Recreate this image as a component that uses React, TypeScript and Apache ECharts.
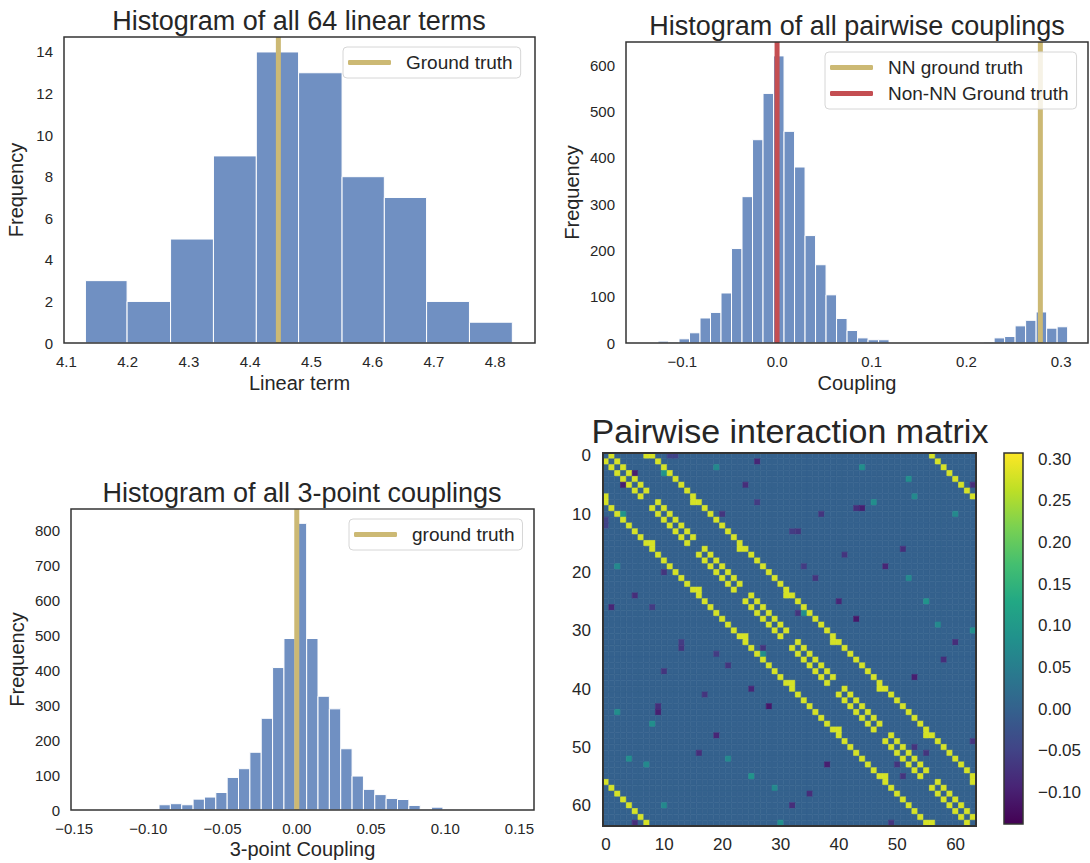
import React, { useEffect, useRef } from "react";
import * as echarts from "echarts";

// ---------- DATA ----------
const LINEAR_EDGES = [4.131, 4.199, 4.270, 4.340, 4.410, 4.479, 4.550, 4.619, 4.688, 4.758, 4.828];
const LINEAR_COUNTS = [3, 2, 5, 9, 14, 13, 8, 7, 2, 1];
const LINEAR_TRUTH = 4.446;
const LINEAR_X_TICKS = [4.1, 4.2, 4.3, 4.4, 4.5, 4.6, 4.7, 4.8];
const LINEAR_Y_TICKS = [0, 2, 4, 6, 8, 10, 12, 14];

const PAIR_BIN_START = -0.1368;
const PAIR_BIN_WIDTH = 0.01109;
const PAIR_COUNTS = [1, 4, 2, 9, 22, 54, 66, 108, 204, 316, 439, 539, 620, 457, 380, 232, 169, 104, 53, 27, 11, 7, 7, 0, 0, 0, 0, 0, 0, 0, 0, 0, 2, 11, 14, 37, 49, 67, 32, 35];
const NN_TRUTH = 0.278;
const NON_NN_TRUTH = 0.0;
const PAIR_X_TICKS = [-0.1, 0.0, 0.1, 0.2, 0.3];
const PAIR_Y_TICKS = [0, 100, 200, 300, 400, 500, 600];

const TRIPLE_BIN_START = -0.1387;
const TRIPLE_BIN_WIDTH = 0.00765;
const TRIPLE_COUNTS = [0, 0, 0, 1, 1, 2, 15, 18, 15, 31, 37, 50, 93, 118, 165, 262, 407, 490, 819, 490, 325, 289, 175, 97, 59, 44, 33, 30, 13, 2, 8, 2, 1, 1, 0, 0, 1];
const TRIPLE_TRUTH = 0.0;
const TRIPLE_X_TICKS = [-0.15, -0.1, -0.05, 0.0, 0.05, 0.1, 0.15];
const TRIPLE_Y_TICKS = [0, 100, 200, 300, 400, 500, 600, 700, 800];

// Pairwise matrix: 64 spins on an 8x8 periodic lattice
const LATTICE = 8;
const NN_VALUE = 0.28;
const BACKGROUND_VALUE = 0.0;
// noticeable off-structure cells [row, col, value] (matrix is symmetric)
const MATRIX_OUTLIERS = [
  [1, 26, -0.09], [5, 24, -0.08], [9, 43, -0.08], [9, 44, -0.1], [10, 37, -0.07], [13, 32, -0.06],
  [13, 33, -0.07], [17, 41, -0.07], [19, 34, -0.06], [21, 36, -0.07], [8, 26, -0.06], [5, 63, -0.08],
  [16, 51, -0.08], [19, 48, -0.09], [2, 44, 0.08], [8, 46, 0.08], [4, 52, 0.08], [7, 53, 0.07],
  [10, 60, 0.07], [21, 52, 0.07], [25, 40, -0.09], [28, 43, -0.11], [27, 33, -0.07], [27, 34, 0.08],
  [25, 55, 0.09], [32, 60, -0.08], [35, 58, -0.08], [38, 53, -0.1], [30, 63, 0.08], [29, 57, 0.07],
  [49, 63, -0.07], [50, 53, -0.07], [51, 55, -0.07], [3, 5, -0.1], [0, 11, -0.05], [0, 12, -0.05],
  [3, 10, 0.09], [10, 20, -0.07], [2, 19, 0.07],
];
const CBAR_MIN = -0.138;
const CBAR_MAX = 0.3076;
const CBAR_TICKS = [-0.1, -0.05, 0.0, 0.05, 0.1, 0.15, 0.2, 0.25, 0.3];
const MATRIX_TICKS = ["0", "10", "20", "30", "40", "50", "60"];

const VIRIDIS = ["#440154", "#482475", "#414487", "#355f8d", "#2a788e", "#21918c", "#22a884", "#44bf70", "#7ad151", "#bddf26", "#fde725"];

// ---------- helpers ----------
const FONT = '"Liberation Sans", Arial, Helvetica, sans-serif';
const INK = "#262626";
const FRAME = "#333333";
const BAR = "#7090C2";
const GOLD = "#CCB974";
const RED = "#C44E52";

const GRIDS = [
  { left: 64, top: 37, width: 471, height: 306 },
  { left: 626, top: 42, width: 462, height: 301 },
  { left: 71, top: 509, width: 463, height: 301 },
  { left: 603, top: 453, width: 373, height: 373 },
  { left: 1004, top: 453, width: 19, height: 371 },
];

const fmt = (d: number) => (v: number) => (v < 0 ? "\u2212" : "") + Math.abs(v).toFixed(d);

function histData(edges: number[], counts: number[]) {
  const out: number[][] = [];
  counts.forEach((c, i) => out.push([edges[i], edges[i + 1], c]));
  return out;
}
function uniformEdges(start: number, width: number, n: number) {
  const e: number[] = [];
  for (let i = 0; i <= n; i++) e.push(start + i * width);
  return e;
}

function renderBar(params: any, api: any) {
  const c = api.value(2);
  if (!c) return null;
  const p0 = api.coord([api.value(0), c]);
  const p1 = api.coord([api.value(1), 0]);
  return {
    type: "rect",
    shape: { x: p0[0], y: p0[1], width: p1[0] - p0[0], height: p1[1] - p0[1] },
    style: { fill: BAR, stroke: "#ffffff", lineWidth: 1 },
  };
}

function renderCell(params: any, api: any) {
  const c = api.coord([api.value(0), api.value(1)]);
  const s = api.size([1, 1]);
  const color = api.visual("color");
  return {
    type: "rect",
    shape: { x: c[0] - s[0] / 2, y: c[1] - s[1] / 2, width: s[0], height: s[1] },
    style: { fill: color, stroke: color, lineWidth: 0.6 },
  };
}

function matrixData() {
  const n = LATTICE * LATTICE;
  const m: number[][] = [];
  for (let i = 0; i < n; i++) {
    m.push([]);
    for (let j = 0; j < n; j++) m[i].push(BACKGROUND_VALUE);
  }
  for (let i = 0; i < n; i++) {
    const r = Math.floor(i / LATTICE), c = i % LATTICE;
    const right = r * LATTICE + ((c + 1) % LATTICE);
    const down = ((r + 1) % LATTICE) * LATTICE + c;
    [right, down].forEach((j) => {
      m[i][j] = NN_VALUE;
      m[j][i] = NN_VALUE;
    });
  }
  MATRIX_OUTLIERS.forEach(([r, c, v]) => {
    m[r][c] = v;
    m[c][r] = v;
  });
  const data: number[][] = [];
  for (let i = 0; i < n; i++) for (let j = 0; j < n; j++) data.push([j, i, m[i][j]]);
  return data;
}

const valueAxisBase = (min: number, max: number, ticks: number[], digits: number, extra: any = {}) => ({
  type: "value",
  min,
  max,
  axisLine: { show: false },
  axisTick: { show: false },
  splitLine: { show: false },
  axisLabel: {
    customValues: ticks,
    formatter: fmt(digits),
    fontSize: 15,
    color: INK,
    fontFamily: FONT,
    margin: 11,
  },
  nameTextStyle: { fontSize: 20, color: INK, fontFamily: FONT },
  nameLocation: "middle",
  ...extra,
});

const legendBase = (names: string[], left: number, top: number, extra: any = {}) => ({
  data: names,
  left,
  top,
  orient: "vertical",
  selectedMode: false,
  icon: "roundRect",
  itemWidth: 43,
  itemHeight: 5,
  itemGap: 7,
  textStyle: { fontSize: 19, color: INK, fontFamily: FONT, padding: [0, 0, 0, 10] },
  backgroundColor: "rgba(255,255,255,0.82)",
  borderColor: "#d6d6d6",
  borderWidth: 1,
  borderRadius: 4,
  padding: [6, 8, 6, 5],
  z: 10,
  ...extra,
});

const vline = (name: string, x: number, yMax: number, color: string, idx: number) => ({
  name,
  type: "line",
  xAxisIndex: idx,
  yAxisIndex: idx,
  data: [[x, 0], [x, yMax]],
  symbol: "none",
  lineStyle: { width: 5, color },
  itemStyle: { color },
  z: 3,
});

const title = (text: string, x: number, y: number, size: number) => ({
  type: "text",
  x,
  y,
  z: 100,
  style: { text, fontSize: size, fontFamily: FONT, fill: INK, align: "center", verticalAlign: "middle" },
});

const frame = (g: any, lineWidth: number) => ({
  type: "rect",
  z: 100,
  shape: { x: g.left, y: g.top, width: g.width, height: g.height },
  style: { fill: "none", stroke: FRAME, lineWidth },
});

export default function App() {
  const ref = useRef<HTMLDivElement>(null);
  useEffect(() => {
    if (!ref.current) return;
    const chart = echarts.init(ref.current, null, { renderer: "svg" });
    const option: any = {
      animation: false,
      textStyle: { fontFamily: FONT },
      grid: GRIDS.map((g) => ({ ...g, show: false })),
      xAxis: [
        valueAxisBase(4.096, 4.865, LINEAR_X_TICKS, 1, { gridIndex: 0, name: "Linear term", nameGap: 30 }),
        valueAxisBase(-0.1595, 0.3283, PAIR_X_TICKS, 1, { gridIndex: 1, name: "Coupling", nameGap: 30 }),
        valueAxisBase(-0.1521, 0.1598, TRIPLE_X_TICKS, 2, { gridIndex: 2, name: "3-point Coupling", nameGap: 29 }),
        {
          type: "category",
          gridIndex: 3,
          data: Array.from({ length: 64 }, (_, i) => String(i)),
          axisLine: { show: false },
          axisTick: { show: false },
          splitLine: { show: false },
          axisLabel: {
            interval: (i: number, v: string) => MATRIX_TICKS.includes(v),
            fontSize: 17,
            color: INK,
            fontFamily: FONT,
            margin: 10,
          },
        },
        { type: "value", gridIndex: 4, show: false, min: 0, max: 1 },
      ],
      yAxis: [
        valueAxisBase(0, 14.72, LINEAR_Y_TICKS, 0, { gridIndex: 0, name: "Frequency", nameGap: 38, nameRotate: 90 }),
        valueAxisBase(0, 650, PAIR_Y_TICKS, 0, { gridIndex: 1, name: "Frequency", nameGap: 44, nameRotate: 90 }),
        valueAxisBase(0, 860, TRIPLE_Y_TICKS, 0, { gridIndex: 2, name: "Frequency", nameGap: 44, nameRotate: 90 }),
        {
          type: "category",
          gridIndex: 3,
          inverse: true,
          data: Array.from({ length: 64 }, (_, i) => String(i)),
          axisLine: { show: false },
          axisTick: { show: false },
          splitLine: { show: false },
          axisLabel: {
            interval: (i: number, v: string) => MATRIX_TICKS.includes(v),
            fontSize: 17,
            color: INK,
            fontFamily: FONT,
            margin: 12,
          },
        },
        {
          type: "value",
          gridIndex: 4,
          position: "right",
          min: CBAR_MIN,
          max: CBAR_MAX,
          axisLine: { show: false },
          splitLine: { show: false },
          axisTick: { show: true, customValues: CBAR_TICKS, length: 6, lineStyle: { color: INK, width: 1 } },
          axisLabel: { customValues: CBAR_TICKS, formatter: fmt(2), fontSize: 17, color: INK, fontFamily: FONT, margin: 15 },
        },
      ],
      visualMap: {
        type: "continuous",
        show: false,
        seriesIndex: 7,
        dimension: 2,
        min: CBAR_MIN,
        max: CBAR_MAX,
        inRange: { color: VIRIDIS },
      },
      legend: [
        legendBase(["Ground truth"], 343, 47),
        legendBase(["NN ground truth", "Non-NN Ground truth"], 825, 52),
        legendBase(["ground truth"], 349, 519),
      ],
      series: [
        {
          type: "custom",
          xAxisIndex: 0,
          yAxisIndex: 0,
          renderItem: renderBar,
          encode: { x: [0, 1], y: 2 },
          data: histData(LINEAR_EDGES, LINEAR_COUNTS),
          z: 2,
        },
        {
          type: "custom",
          xAxisIndex: 1,
          yAxisIndex: 1,
          renderItem: renderBar,
          encode: { x: [0, 1], y: 2 },
          data: histData(uniformEdges(PAIR_BIN_START, PAIR_BIN_WIDTH, PAIR_COUNTS.length), PAIR_COUNTS),
          z: 2,
        },
        {
          type: "custom",
          xAxisIndex: 2,
          yAxisIndex: 2,
          renderItem: renderBar,
          encode: { x: [0, 1], y: 2 },
          data: histData(uniformEdges(TRIPLE_BIN_START, TRIPLE_BIN_WIDTH, TRIPLE_COUNTS.length), TRIPLE_COUNTS),
          z: 2,
        },
        vline("Ground truth", LINEAR_TRUTH, 14.72, GOLD, 0),
        vline("NN ground truth", NN_TRUTH, 650, GOLD, 1),
        vline("Non-NN Ground truth", NON_NN_TRUTH, 650, RED, 1),
        vline("ground truth", TRIPLE_TRUTH, 860, GOLD, 2),
        {
          type: "custom",
          xAxisIndex: 3,
          yAxisIndex: 3,
          renderItem: renderCell,
          encode: { x: 0, y: 1 },
          data: matrixData(),
          progressive: 0,
        },
      ],
      graphic: [
        title("Histogram of all 64 linear terms", 299, 21, 27),
        title("Histogram of all pairwise couplings", 857, 26, 27),
        title("Histogram of all 3-point couplings", 302, 493, 27),
        title("Pairwise interaction matrix", 790, 431, 34),
        frame(GRIDS[0], 1.5),
        frame(GRIDS[1], 1.5),
        frame(GRIDS[2], 1.5),
        frame(GRIDS[3], 2),
        {
          type: "rect",
          z: 100,
          shape: { x: GRIDS[4].left, y: GRIDS[4].top, width: GRIDS[4].width, height: GRIDS[4].height },
          style: {
            fill: {
              type: "linear",
              x: 0,
              y: 1,
              x2: 0,
              y2: 0,
              colorStops: VIRIDIS.map((c, i) => ({ offset: i / (VIRIDIS.length - 1), color: c })),
            },
            stroke: FRAME,
            lineWidth: 1.5,
          },
        },
      ],
    };
    chart.setOption(option);
    return () => chart.dispose();
  }, []);
  return <div ref={ref} style={{ position: "absolute", left: 0, top: 0, width: 1090, height: 863 }} />;
}
